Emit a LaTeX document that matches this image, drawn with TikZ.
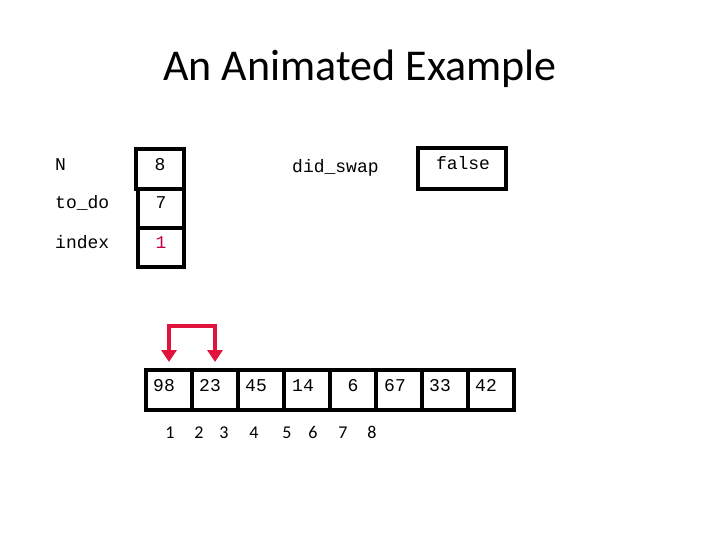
\documentclass[tikz,border=0pt]{standalone}
\usepackage{fontspec}
\setmainfont{Carlito}
\newfontfamily\monof{Liberation Mono}
\usetikzlibrary{arrows.meta}
\definecolor{arrowred}{HTML}{E0143C}
\definecolor{valred}{HTML}{C0004C}
\begin{document}
\begin{tikzpicture}[x=1pt,y=-1pt,
  box/.style={draw=black, line width=4pt, inner sep=0pt},
  cell/.style={box, minimum width=46pt, minimum height=40pt},
  mono/.style={font=\monof\fontsize{18}{20}\selectfont, inner sep=0pt},
  idx/.style={font=\fontsize{18}{20}\selectfont, inner sep=0pt, anchor=base},
  swaparrow/.style={draw=arrowred, line width=4pt,
    {Triangle[width=15pt,length=12pt]}-{Triangle[width=15pt,length=12pt]}}]
\useasboundingbox (0,0) rectangle (720,540);
% title
\node[font=\fontsize{44}{48}\selectfont, inner sep=0pt, anchor=base] (title) at (360,81) {An Animated Example};
% variable boxes
\node[box, minimum width=48pt, minimum height=40pt] (bN) at (160,169) {};
\node[box, minimum width=46pt, minimum height=39pt] (bT) at (161,208.5) {};
\node[box, minimum width=46pt, minimum height=39pt] (bI) at (161,247.5) {};
\node[box, minimum width=88pt, minimum height=41pt] (bF) at (462,168.5) {};
% labels
\node[mono, anchor=base west] (lN) at (55,171) {N};
\node[mono, anchor=base west] (lT) at (55,209) {to\_do};
\node[mono, anchor=base west] (lI) at (55,248) {index};
\node[mono, anchor=base west] (lS) at (292,173) {did\_swap};
% values
\node[mono, anchor=base] (vN) at (160,171) {8};
\node[mono, anchor=base] (vT) at (161,209) {7};
\node[mono, anchor=base, text=valred] (vI) at (161,248) {1};
\node[mono, anchor=base] (vF) at (463,170) {false};
% array cells
\foreach \i/\x in {1/169,2/215,3/261,4/307,5/353,6/399,7/445,8/491}
  \node[cell] (c\i) at (\x,390) {};
\foreach \i/\x/\v in {1/164/98,2/210/23,3/256/45,4/303/14,5/353/6,6/395/67,7/440/33,8/486/42}
  \node[mono, anchor=base] (d\i) at (\x,391) {\v};
% index labels
\foreach \i/\x in {1/170,2/199,3/224,4/254,5/287,6/313,7/343,8/372}
  \node[idx] (n\i) at (\x,438) {\i};
% swap arrow
\draw[swaparrow] ([yshift=6pt]c1.north) -- ++(0,-36) -| ([yshift=6pt]c2.north);
\end{tikzpicture}
\end{document}
